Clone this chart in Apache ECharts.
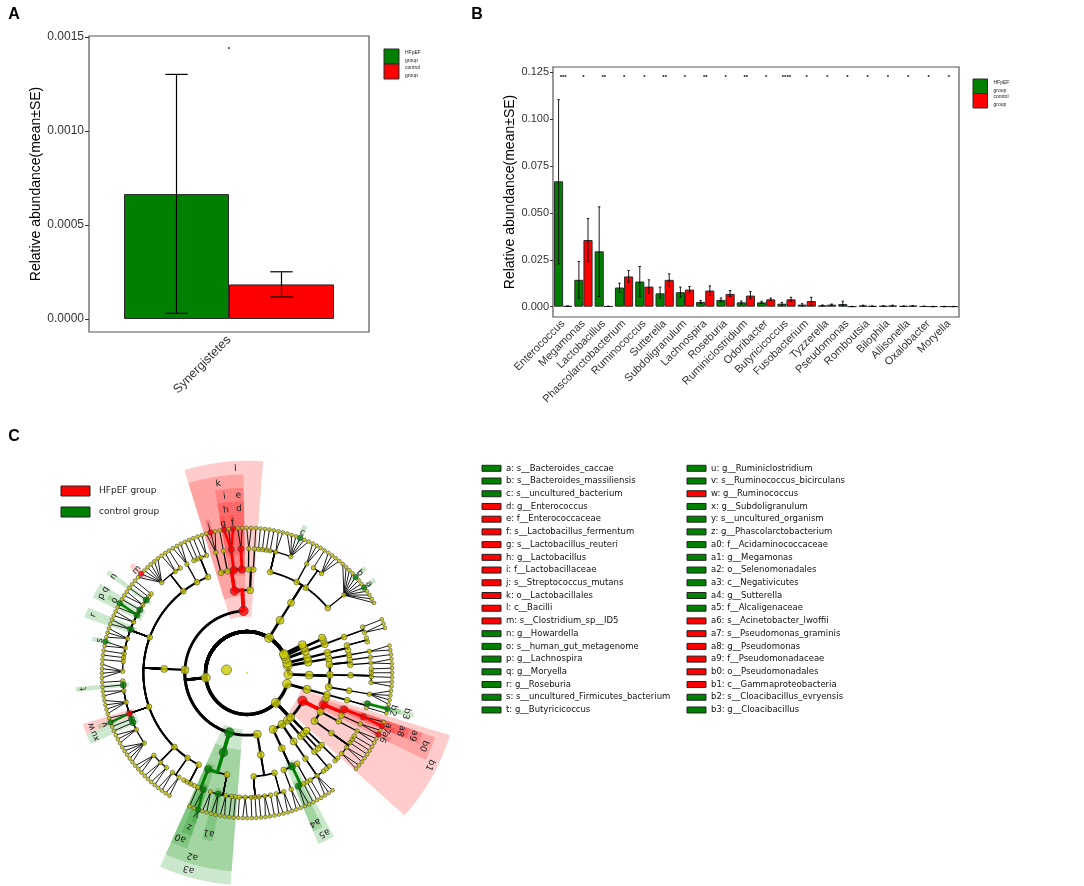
<!DOCTYPE html>
<html>
<head>
<meta charset="utf-8">
<script src="https://cdn.jsdelivr.net/npm/echarts@6/dist/echarts.min.js"></script>
<style>
  html, body { margin: 0; padding: 0; background: #fff; }
  #main { width: 1084px; height: 886px; }
</style>
</head>
<body>
<div id="main"></div>
<script>
// ---------- panel A ----------
const phylumA = ['Synergistetes'];
const hfpefA = [0.000664];
const hfpefLowA = [0.00003];
const hfpefHighA = [0.0013];
const controlA = [0.000184];
const controlLowA = [0.000117];
const controlHighA = [0.000251];
const starsA = ['*'];
const starYA = 0.001442;
const ticksA = [0, 0.0005, 0.001, 0.0015];

// ---------- panel B ----------
const genusB = ['Enterococcus', 'Megamonas', 'Lactobacillus', 'Phascolarctobacterium', 'Ruminococcus',
  'Sutterella', 'Subdoligranulum', 'Lachnospira', 'Roseburia', 'Ruminiclostridium', 'Odoribacter',
  'Butyricicoccus', 'Fusobacterium', 'Tyzzerella', 'Pseudomonas', 'Romboutsia', 'Bilophila',
  'Allisonella', 'Oxalobacter', 'Moryella'];
const hfpefB = [0.0668, 0.0143, 0.0295, 0.0102, 0.0134, 0.0071, 0.0077, 0.0025, 0.0036, 0.0023,
  0.0023, 0.0016, 0.0011, 0.0007, 0.0014, 0.0006, 0.0004, 0.0003, 0.0002, 0.0001];
const hfpefLowB = [0.0228, 0.0045, 0.0054, 0.0077, 0.0055, 0.0046, 0.0050, 0.0018, 0.0027, 0.0014,
  0.0018, 0.0009, 0.0005, 0.0005, 0.0005, 0.0004, 0.0003, 0.0002, 0.0001, 0.0000];
const hfpefHighB = [0.1103, 0.0241, 0.0532, 0.0125, 0.0214, 0.0104, 0.0104, 0.0032, 0.0046, 0.0030,
  0.0029, 0.0023, 0.0016, 0.0009, 0.0029, 0.0008, 0.0005, 0.0004, 0.0003, 0.0002];
const controlB = [0.0003, 0.0355, 0.0002, 0.0161, 0.0107, 0.0143, 0.0091, 0.0086, 0.0068, 0.0059,
  0.0039, 0.0039, 0.0030, 0.0011, 0.0001, 0.0003, 0.0006, 0.0005, 0.0001, 0.0001];
const controlLowB = [0.0002, 0.0239, 0.0001, 0.0130, 0.0071, 0.0111, 0.0071, 0.0061, 0.0054, 0.0041,
  0.0032, 0.0030, 0.0009, 0.0008, 0.0000, 0.0002, 0.0004, 0.0004, 0.0000, 0.0000];
const controlHighB = [0.0004, 0.0470, 0.0003, 0.0193, 0.0143, 0.0175, 0.0107, 0.0111, 0.0086, 0.0080,
  0.0046, 0.0050, 0.0050, 0.0014, 0.0002, 0.0004, 0.0008, 0.0006, 0.0002, 0.0002];
const starsB = ['***', '*', '**', '*', '*', '**', '*', '**', '*', '**', '*', '****', '*', '*', '*', '*', '*', '*', '*', '*'];
const starYB = 0.1229;
const ticksB = [0, 0.025, 0.05, 0.075, 0.1, 0.125];

// ---------- panel C (cladogram) ----------
// one string per phylum: ( ) = clade, n = clade with n unnamed leaves, . = leaf, [x] = biomarker letter
const phylumTrees = [
  '((((4)),((2,1,1,1)),((2),(1))))',
  '((((2))))',
  '(((.,2)))',
  '((((2,1))))',
  '((.,.))',
  '(.)',
  '(((((.,.,.,.,.[a],.,.,.[b],.,.,.,.)),(4,1),(3),((.,.,.[c],.,.,.),2,1,1,1,1))))',
  '((((1),(2)),((2[d])[e],((.[f],.,.[g])[h])[i],(1),((.,.[j],.)))[k])[l],' +
    '(((2,1,1,1),(3),(1,2,(.,.,.,.,.,.[m],.)),(1,1,1[n],2,1[q],(.[o],.)[p],2,2[r],3,(.[s],.),1,1,1,4),' +
    '(1,1[t],2,4,(.,.[v])[w],1[u],1[x],3,5),(3,2,2),(2,2),(.,.,.,.))),' +
    '(((1,(.,.[y])[z])[a0],(2,2[a1],2,1,1))[a2])[a3],' +
    '(((1,2,1,1,1,2,1),(2,2))))',
  '((((2),(2[a4],1)[a5],(1))),(((1,3,.))),((2)),((.),(2)),' +
    '(((2,2,1,1,1)),((2)),(((.[a6],.)),((.[a7],.)[a8])[a9])[b0],.)[b1])',
  '((((1,(.[b2])[b3]))))'
];
const cladeLetters = ['a', 'b', 'c', 'd', 'e', 'f', 'g', 'h', 'i', 'j', 'k', 'l', 'm', 'n', 'o', 'p', 'q', 'r', 's', 't',
  'u', 'v', 'w', 'x', 'y', 'z', 'a0', 'a1', 'a2', 'a3', 'a4', 'a5', 'a6', 'a7', 'a8', 'a9', 'b0', 'b1', 'b2', 'b3'];
const cladeTaxa = ['s__Bacteroides_caccae', 's__Bacteroides_massiliensis', 's__uncultured_bacterium',
  'g__Enterococcus', 'f__Enterococcaceae', 's__Lactobacillus_fermentum', 's__Lactobacillus_reuteri',
  'g__Lactobacillus', 'f__Lactobacillaceae', 's__Streptococcus_mutans', 'o__Lactobacillales', 'c__Bacilli',
  's__Clostridium_sp__ID5', 'g__Howardella', 's__human_gut_metagenome', 'g__Lachnospira', 'g__Moryella',
  'g__Roseburia', 's__uncultured_Firmicutes_bacterium', 'g__Butyricicoccus',
  'g__Ruminiclostridium', 's__Ruminococcus_bicirculans', 'g__Ruminococcus', 'g__Subdoligranulum',
  's__uncultured_organism', 'g__Phascolarctobacterium', 'f__Acidaminococcaceae', 'g__Megamonas',
  'o__Selenomonadales', 'c__Negativicutes', 'g__Sutterella', 'f__Alcaligenaceae', 's__Acinetobacter_lwoffii',
  's__Pseudomonas_graminis', 'g__Pseudomonas', 'f__Pseudomonadaceae', 'o__Pseudomonadales',
  'c__Gammaproteobacteria', 's__Cloacibacillus_evryensis', 'g__Cloacibacillus'];
const cladeGroups = ['C', 'C', 'C', 'H', 'H', 'H', 'H', 'H', 'H', 'H', 'H', 'H', 'H', 'C', 'C', 'C', 'C', 'C', 'C', 'C',
  'C', 'C', 'H', 'C', 'C', 'C', 'C', 'C', 'C', 'C', 'C', 'C', 'H', 'H', 'H', 'H', 'H', 'H', 'C', 'C'];
const groupNames = ['HFpEF group', 'control group'];

// ---------- build the tree ----------
function parseClade(text) {
  let pos = 0;
  function label() {
    if (text[pos] !== '[') return null;
    const end = text.indexOf(']', pos);
    const s = text.slice(pos + 1, end);
    pos = end + 1;
    return s;
  }
  function clade() {
    if (text[pos] === '(') {
      pos++;
      const kids = [clade()];
      while (text[pos] === ',') { pos++; kids.push(clade()); }
      pos++;
      return { kids: kids, label: label() };
    }
    if (text[pos] === '.') { pos++; return { kids: [], label: label() }; }
    const start = pos;
    while (text[pos] >= '0' && text[pos] <= '9') pos++;
    const n = +text.slice(start, pos);
    const kids = [];
    for (let k = 0; k < n; k++) kids.push({ kids: [], label: null });
    return { kids: kids, label: label() };
  }
  return clade();
}

const kingdom = { kids: phylumTrees.map(parseClade), label: null };
const root = { kids: [kingdom], label: null };
const allNodes = [];
let leafCount = 0;
function layout(node, depth, parent) {
  node.depth = depth;
  node.parent = parent;
  allNodes.push(node);
  if (!node.kids.length) {
    node.first = node.last = leafCount;
    node.angle = leafCount + 0.5;
    leafCount++;
  } else {
    node.kids.forEach(k => layout(k, depth + 1, node));
    const a = node.kids[0], b = node.kids[node.kids.length - 1];
    node.first = a.first;
    node.last = b.last;
    node.angle = (a.angle + b.angle) / 2;
  }
}
layout(root, 0, null);
allNodes.forEach(n => {
  n.group = n.label ? cladeGroups[cladeLetters.indexOf(n.label)] : null;
});

const markColor = { H: '#ff0000', C: '#008000' };
const shadeColor = { H: 'rgba(255,0,0,0.2)', C: 'rgba(0,140,0,0.2)' };
const nodeSize = [2, 10, 9, 8, 7, 5.8, 4.6, 3.8];
const edgeWidth = [0, 0, 3.4, 2.8, 2.3, 1.8, 1.3, 0.9];
const marked = allNodes.filter(n => n.label);
const edges = allNodes.filter(n => n.parent && n.parent !== root);
edges.sort((a, b) => (a.group && a.parent.group ? 1 : 0) - (b.group && b.parent.group ? 1 : 0));
const labelR = d => 7.28 + (7 - d) * 0.65;

// ---------- chart ----------
const chart = echarts.init(document.getElementById('main'));
const axisFont = 'Liberation Sans';

function errorBars(idx, lows, highs, shift, capHalf, width) {
  return {
    type: 'custom', xAxisIndex: idx, yAxisIndex: idx, z: 5, silent: true,
    data: lows.map((l, i) => [i, l, highs[i]]),
    renderItem: function (params, api) {
      const band = api.size([1, 0])[0];
      const lo = api.coord([api.value(0), api.value(1)]);
      const hi = api.coord([api.value(0), api.value(2)]);
      const x = lo[0] + shift * band, c = capHalf * band;
      const st = { stroke: '#000', lineWidth: width };
      return {
        type: 'group', children: [
          { type: 'line', shape: { x1: x, y1: lo[1], x2: x, y2: hi[1] }, style: st },
          { type: 'line', shape: { x1: x - c, y1: lo[1], x2: x + c, y2: lo[1] }, style: st },
          { type: 'line', shape: { x1: x - c, y1: hi[1], x2: x + c, y2: hi[1] }, style: st }
        ]
      };
    }
  };
}
function starText(idx, stars, y, size) {
  return {
    type: 'custom', xAxisIndex: idx, yAxisIndex: idx, z: 5, silent: true,
    data: stars.map((s, i) => [i, y]),
    renderItem: function (params, api) {
      const p = api.coord([api.value(0), api.value(1)]);
      return {
        type: 'text', x: p[0], y: p[1] + size * 0.25,
        style: { text: stars[params.dataIndex], fontSize: size, fontWeight: 'bold', fill: '#000',
          align: 'center', verticalAlign: 'middle', fontFamily: axisFont }
      };
    }
  };
}
function barSeries(idx, name, data, color, width) {
  return {
    type: 'bar', name: name, xAxisIndex: idx, yAxisIndex: idx, data: data,
    barWidth: width, barGap: '0%', silent: true,
    itemStyle: { color: color, borderColor: '#2a2a2a', borderWidth: 1 }
  };
}

// polar helpers
function arcPoints(api, r, a0, a1) {
  const pts = [];
  const steps = Math.max(1, Math.ceil(Math.abs(a1 - a0) / 0.25));
  for (let s = 0; s <= steps; s++) pts.push(api.coord([r, a0 + (a1 - a0) * s / steps]));
  return pts;
}

const sectorSeries = {
  type: 'custom', coordinateSystem: 'polar', z: 1, silent: true,
  data: marked.map(n => [n.depth, n.angle]),
  renderItem: function (params, api) {
    const n = marked[params.dataIndex];
    const ri = n.depth - 0.28, ro = labelR(n.depth) + 0.36;
    const outer = arcPoints(api, ro, n.first + 0.02, n.last + 0.98);
    const inner = arcPoints(api, ri, n.last + 0.98, n.first + 0.02);
    return { type: 'polygon', shape: { points: outer.concat(inner) }, style: { fill: shadeColor[n.group] } };
  }
};

const edgeSeries = {
  type: 'custom', coordinateSystem: 'polar', z: 2, silent: true,
  data: edges.map(n => [n.depth, n.angle]),
  renderItem: function (params, api) {
    const c = edges[params.dataIndex], p = c.parent;
    const colored = c.group && p.group;
    let pts;
    if (c.depth >= 7) {
      pts = [api.coord([p.depth, p.angle]), api.coord([c.depth, c.angle])];
    } else if (p.depth <= 1) {
      pts = arcPoints(api, c.depth, p.angle, c.angle);
    } else {
      pts = [api.coord([p.depth, p.angle])].concat(arcPoints(api, c.depth, p.angle, c.angle));
    }
    return {
      type: 'polyline', shape: { points: pts },
      style: { stroke: colored ? markColor[c.group] : '#000', lineWidth: edgeWidth[c.depth] + (colored ? 1.6 : 0), fill: null }
    };
  }
};

const nodeSeries = {
  type: 'scatter', coordinateSystem: 'polar', z: 3, silent: true, symbol: 'circle',
  data: allNodes.map(n => ({
    value: [n.depth, n.angle],
    symbolSize: n.depth === 0 ? 2 : nodeSize[n.depth] + (n.group ? 1.6 : 0),
    itemStyle: {
      color: n.group ? markColor[n.group] : '#cccc00',
      borderColor: n.depth === 0 ? 'transparent' : '#3a3a3a',
      borderWidth: n.depth === 0 ? 0 : 0.7
    }
  }))
};

const labelSeries = {
  type: 'custom', coordinateSystem: 'polar', z: 4, silent: true,
  data: marked.map(n => [labelR(n.depth), n.angle]),
  renderItem: function (params, api) {
    const n = marked[params.dataIndex];
    const c0 = api.coord([0, 0]);
    const p = api.coord([labelR(n.depth), n.angle]);
    const th = Math.atan2(c0[1] - p[1], p[0] - c0[0]);
    return {
      type: 'text', x: p[0], y: p[1], rotation: th - Math.PI / 2,
      style: { text: n.label, fontSize: 9, fill: '#222', align: 'center', verticalAlign: 'middle', fontFamily: 'DejaVu Sans' }
    };
  }
};

// graphic: panel letters and legends
const graphic = [];
[['A', 14, 15], ['B', 477, 15], ['C', 14, 437]].forEach(t => graphic.push({
  type: 'text', x: t[1], y: t[2], silent: true,
  style: { text: t[0], fontSize: 16, fontWeight: 'bold', fontFamily: axisFont, fill: '#000', align: 'center', verticalAlign: 'middle' }
}));
function smallLegend(x, y, size, font) {
  const cols = ['#008000', '#ff0000'];
  groupNames.forEach((g, i) => {
    graphic.push({ type: 'rect', silent: true, shape: { x: x, y: y + i * size, width: size, height: size },
      style: { fill: cols[i], stroke: '#2a2a2a', lineWidth: 1 } });
    graphic.push({ type: 'text', silent: true, x: x + size + 6, y: y + i * size + size / 2,
      style: { text: g.replace(' ', '\n'), fontSize: font, lineHeight: font * 1.55, fill: '#222',
        fontFamily: axisFont, verticalAlign: 'middle' } });
  });
}
smallLegend(384, 49, 15, 5);
smallLegend(973, 79, 14.5, 5);
// cladogram group legend
groupNames.forEach((g, i) => {
  graphic.push({ type: 'rect', silent: true, shape: { x: 61, y: 486 + i * 21, width: 29, height: 10 },
    style: { fill: i === 0 ? '#ff0000' : '#008000', stroke: '#222', lineWidth: 1 } });
  graphic.push({ type: 'text', silent: true, x: 99, y: 491 + i * 21,
    style: { text: g, fontSize: 9, fill: '#222', fontFamily: 'DejaVu Sans', verticalAlign: 'middle' } });
});
// biomarker key
cladeLetters.forEach((l, i) => {
  const col = i < 20 ? 0 : 1, row = i % 20;
  const y = 468.3 + row * 12.72;
  const sx = col ? 687 : 482;
  graphic.push({ type: 'rect', silent: true, shape: { x: sx, y: y - 3, width: 19, height: 6 },
    style: { fill: markColor[cladeGroups[i]], stroke: '#222', lineWidth: 1 } });
  graphic.push({ type: 'text', silent: true, x: sx + 24, y: y,
    style: { text: l + ': ' + cladeTaxa[i], fontSize: 8.5, fill: '#111', fontFamily: 'DejaVu Sans', verticalAlign: 'middle' } });
});

const option = {
  animation: false,
  backgroundColor: '#fff',
  graphic: graphic,
  grid: [
    { left: 89, top: 36, width: 280, height: 296, show: true, borderColor: '#555', borderWidth: 1.2, backgroundColor: '#fff' },
    { left: 553, top: 67, width: 406, height: 250, show: true, borderColor: '#555', borderWidth: 1.2, backgroundColor: '#fff' }
  ],
  xAxis: [
    { gridIndex: 0, type: 'category', data: phylumA, axisLine: { show: false },
      axisTick: { alignWithLabel: true, length: 4, lineStyle: { color: '#333' } },
      axisLabel: { rotate: 45, fontSize: 12.5, color: '#333', margin: 6, fontFamily: axisFont } },
    { gridIndex: 1, type: 'category', data: genusB, axisLine: { show: false },
      axisTick: { alignWithLabel: true, length: 3, interval: 0, lineStyle: { color: '#333' } },
      axisLabel: { rotate: 45, interval: 0, fontSize: 11, color: '#333', margin: 5, fontFamily: axisFont } }
  ],
  yAxis: [
    { gridIndex: 0, type: 'value', min: -0.000069, max: 0.001504, axisLine: { show: false },
      axisTick: { show: true, length: 4, customValues: ticksA, lineStyle: { color: '#333' } },
      axisLabel: { customValues: ticksA, formatter: v => v.toFixed(4), fontSize: 12, color: '#333', margin: 5, fontFamily: axisFont },
      splitLine: { show: false },
      name: 'Relative abundance(mean±SE)', nameLocation: 'middle', nameGap: 37,
      nameTextStyle: { fontSize: 14, color: '#000', fontFamily: axisFont } },
    { gridIndex: 1, type: 'value', min: -0.0055, max: 0.1277, axisLine: { show: false },
      axisTick: { show: true, length: 3, customValues: ticksB, lineStyle: { color: '#333' } },
      axisLabel: { customValues: ticksB, formatter: v => v.toFixed(3), fontSize: 11, color: '#333', margin: 4, fontFamily: axisFont },
      splitLine: { show: false },
      name: 'Relative abundance(mean±SE)', nameLocation: 'middle', nameGap: 27,
      nameTextStyle: { fontSize: 14, color: '#000', fontFamily: axisFont } }
  ],
  polar: { center: [247, 673], radius: [0, 228] },
  angleAxis: { type: 'value', min: 0, max: leafCount, startAngle: 346.6, clockwise: false,
    axisLine: { show: false }, axisTick: { show: false }, axisLabel: { show: false }, splitLine: { show: false } },
  radiusAxis: { type: 'value', min: 0, max: 11,
    axisLine: { show: false }, axisTick: { show: false }, axisLabel: { show: false }, splitLine: { show: false } },
  series: [
    barSeries(0, groupNames[0], hfpefA, '#008000', '37.5%'),
    barSeries(0, groupNames[1], controlA, '#ff0000', '37.5%'),
    errorBars(0, hfpefLowA, hfpefHighA, -0.1875, 0.04, 1.2),
    errorBars(0, controlLowA, controlHighA, 0.1875, 0.04, 1.2),
    starText(0, starsA, starYA, 6),
    barSeries(1, groupNames[0], hfpefB, '#008000', '45%'),
    barSeries(1, groupNames[1], controlB, '#ff0000', '45%'),
    errorBars(1, hfpefLowB, hfpefHighB, -0.225, 0.06, 0.9),
    errorBars(1, controlLowB, controlHighB, 0.225, 0.06, 0.9),
    starText(1, starsB, starYB, 6),
    sectorSeries,
    edgeSeries,
    nodeSeries,
    labelSeries
  ]
};
chart.setOption(option);
</script>
</body>
</html>
